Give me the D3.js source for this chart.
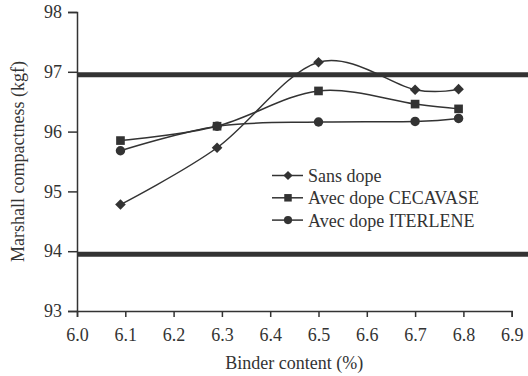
<!DOCTYPE html>
<html>
<head>
<meta charset="utf-8">
<script src="https://cdn.jsdelivr.net/npm/d3@7"></script>
<style>
  body { margin: 0; background: #fff; }
  text { font-family: "Liberation Serif", "Times New Roman", serif; fill: #333; }
</style>
</head>
<body>
<div id="chart-area"></div>
<script>
var binder = [6.09, 6.29, 6.5, 6.7, 6.79]
var sansDope = [94.78, 95.73, 97.16, 96.70, 96.71]
var cecavase = [95.85, 96.09, 96.68, 96.46, 96.38]
var iterlene = [95.68, 96.09, 96.16, 96.17, 96.22]
var seriesNames = ["Sans dope", "Avec dope CECAVASE", "Avec dope ITERLENE"]
var limits = [96.95, 93.95]
var xTicks = [6.0, 6.1, 6.2, 6.3, 6.4, 6.5, 6.6, 6.7, 6.8, 6.9]
var yTicks = [93, 94, 95, 96, 97, 98]

var margin = {top: 12, right: 16, bottom: 65, left: 77}
var width = 528
var height = 376
var ink = "#333"

var svg = d3.select("#chart-area").append("svg")
  .attr("width", width).attr("height", height)

var x = d3.scaleLinear().domain([6.0, 6.9]).range([margin.left, 511.7])
var y = d3.scaleLinear().domain([93, 98]).range([311, margin.top])

// thick limit lines
svg.selectAll(".limit").data(limits).enter().append("line")
  .attr("class", "limit")
  .attr("x1", x(6.0)).attr("x2", width)
  .attr("y1", d => y(d)).attr("y2", d => y(d))
  .attr("stroke", ink).attr("stroke-width", 5)

var leftAxis = d3.axisLeft(y).tickValues(yTicks).tickSize(9).tickPadding(6).tickFormat(d3.format("d"))
var gy = svg.append("g").attr("transform", `translate(${x(6.0)},0)`).call(leftAxis)
var bottomAxis = d3.axisBottom(x).tickValues(xTicks).tickSize(6).tickPadding(11).tickFormat(d3.format(".1f"))
var gx = svg.append("g").attr("transform", `translate(0,${y(93)})`).call(bottomAxis)

;[gx, gy].forEach(g => {
  g.attr("font-family", null)
  g.select(".domain").attr("stroke", ink).attr("stroke-width", 1.5)
  g.selectAll(".tick line").attr("stroke", ink).attr("stroke-width", 1.5)
  g.selectAll(".tick text").attr("font-size", "18px").style("fill", ink)
})

svg.append("text")
  .attr("x", (x(6.0) + x(6.9)) / 2).attr("y", 369)
  .attr("text-anchor", "middle").attr("font-size", "18px")
  .text("Binder content (%)")
svg.append("text")
  .attr("transform", `translate(24,${(y(93) + y(98)) / 2}) rotate(-90)`)
  .attr("text-anchor", "middle").attr("font-size", "18px")
  .text("Marshall compactness (kgf)")

var series = [
  {name: seriesNames[0], values: sansDope, shape: d3.symbolDiamond2, size: 72},
  {name: seriesNames[1], values: cecavase, shape: d3.symbolSquare, size: 75},
  {name: seriesNames[2], values: iterlene, shape: d3.symbolCircle, size: 70}
]

var line = d3.line()
  .x((d, i) => x(binder[i]))
  .y(d => y(d))
  .curve(d3.curveCardinal.tension(0))

// draw ITERLENE first so the squares sit on top of it
series.slice().reverse().forEach(s => {
  svg.append("path").datum(s.values)
    .attr("d", line).attr("fill", "none")
    .attr("stroke", ink).attr("stroke-width", 1.5)
  svg.selectAll(null).data(s.values).enter().append("path")
    .attr("transform", (d, i) => `translate(${x(binder[i])},${y(d)})`)
    .attr("d", d3.symbol().type(s.shape).size(s.size))
    .attr("fill", ink)
})

// legend
var legend = svg.append("g").attr("transform", "translate(272,175.5)")
series.forEach((s, i) => {
  var row = legend.append("g").attr("transform", `translate(0,${i * 22.3})`)
  row.append("line").attr("x1", 0).attr("x2", 31).attr("y1", 0).attr("y2", 0)
    .attr("stroke", ink).attr("stroke-width", 1.5)
  row.append("path").attr("transform", "translate(16,0)")
    .attr("d", d3.symbol().type(s.shape).size(s.size * 0.75))
    .attr("fill", ink)
  row.append("text").attr("x", 36).attr("y", 6.5)
    .attr("font-size", "18px").text(s.name)
})
</script>
</body>
</html>
